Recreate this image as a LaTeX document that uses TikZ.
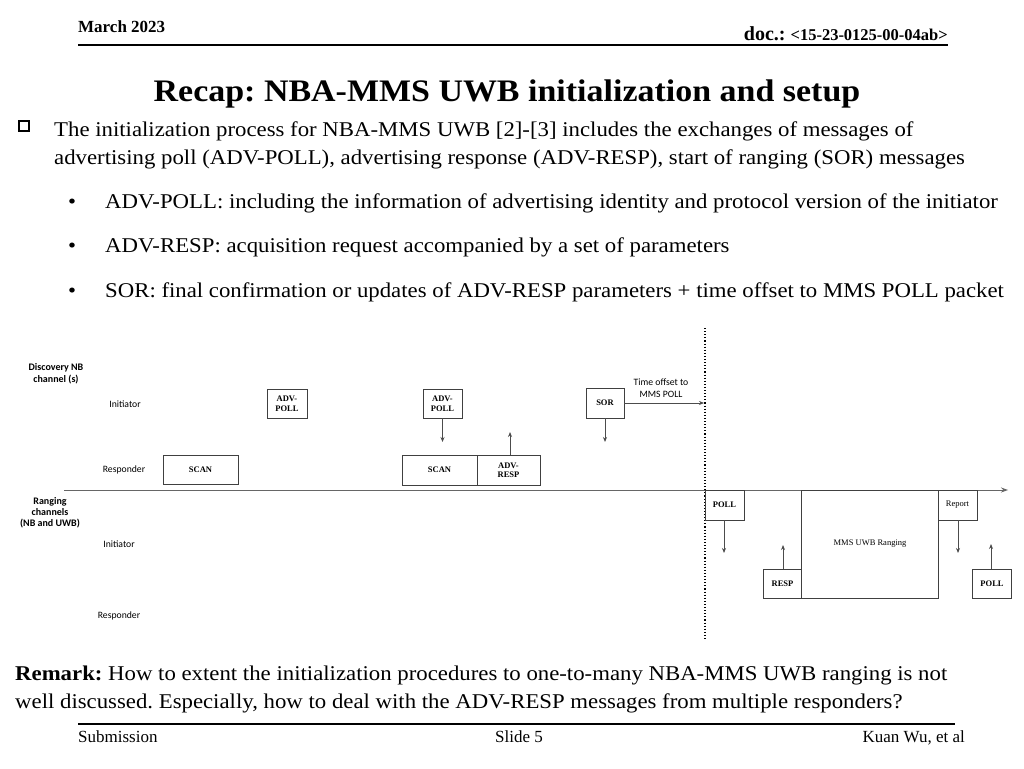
\documentclass[tikz,border=0pt]{standalone}
\usepackage{fontspec}
\setmainfont{Liberation Serif}
\newfontfamily\bodyf{Liberation Serif}[FakeStretch=1.085]
\newfontfamily\calib{Carlito}
\usetikzlibrary{arrows.meta}
\frenchspacing
\tikzset{
  txt/.style={inner sep=0pt, anchor=base west, font=\bodyf\fontsize{21}{25}\selectfont},
  lbl/.style={inner sep=0pt, font=\calib\fontsize{9.7}{11.5}\selectfont, align=center},
  box/.style={draw=black!75, line width=0.9pt, inner sep=0pt, font=\bfseries\fontsize{8.5}{9.5}\selectfont, align=center},
  msg/.style={-{Stealth[length=5pt,width=4pt]}, draw=black!70, line width=0.9pt},
}
\begin{document}
\begin{tikzpicture}[x=1pt,y=-1pt]
\useasboundingbox (0,0) rectangle (1024,768);
\fill[white] (0,0) rectangle (1024,768);
% header
\node[inner sep=0pt, anchor=base west, font=\bfseries\fontsize{17}{19}\selectfont] (date) at (78,33) {March 2023};
\node[inner sep=0pt, anchor=base east, font=\bfseries\fontsize{20}{22}\selectfont] (doc) at (948,41) {doc.: {\fontsize{16.5}{18}\selectfont <15-23-0125-00-04ab>}};
\coordinate (hl) at (78,45); \coordinate (hr) at (948,45);
\draw[line width=1.2pt] (hl) -- (hr);
\node[inner sep=0pt, anchor=base, font=\bodyf\bfseries\fontsize{31.3}{36}\selectfont] (title) at (507,101) {Recap: NBA-MMS UWB initialization and setup};
% bullets
\node[draw, line width=2pt, minimum size=10pt, inner sep=0pt] (chk) at (24,126) {};
\node[txt] (l1) at (54,136) {The initialization process for NBA-MMS UWB [2]-[3] includes the exchanges of messages of};
\node[txt] (l2) at (54,164) {advertising poll (ADV-POLL), advertising response (ADV-RESP), start of ranging (SOR) messages};
\node[txt] (b1) at (68,208) {\textbullet};
\node[txt] (t1) at (105,208) {ADV-POLL: including the information of advertising identity and protocol version of the initiator};
\node[txt] (b2) at (68,252) {\textbullet};
\node[txt] (t2) at (105,252) {ADV-RESP: acquisition request accompanied by a set of parameters};
\node[txt] (b3) at (68,297) {\textbullet};
\node[txt] (t3) at (105,297) {SOR: final confirmation or updates of ADV-RESP parameters + time offset to MMS POLL packet};
% diagram axes
\coordinate (dvt) at (705,328); \coordinate (dvb) at (705,640);
\draw[dotted, line width=1.1pt] (dvt) -- (dvb);
\coordinate (axl) at (64,490); \coordinate (axr) at (1008,490);
\draw[draw=black!60, line width=1pt, -{Stealth[length=7pt,width=5pt]}] (axl) -- (axr);
% labels
\node[lbl, font=\calib\bfseries\fontsize{10}{12}\selectfont] (disc) at (56,374) {Discovery NB\\channel (s)};
\node[lbl] (ini1) at (125,404) {Initiator};
\node[lbl] (res1) at (124,470) {Responder};
\node[lbl, font=\calib\bfseries\fontsize{10}{11.2}\selectfont] (rang) at (50,513) {Ranging\\channels\\(NB and UWB)};
\node[lbl] (ini2) at (119,544) {Initiator};
\node[lbl] (res2) at (119,616) {Responder};
% discovery boxes
\node[box, minimum width=40pt, minimum height=29pt] (ap1) at (287,403.5) {ADV-\\POLL};
\node[box, minimum width=75pt, minimum height=29pt] (sc1) at (200.5,469.5) {SCAN};
\node[box, minimum width=39pt, minimum height=29pt] (ap2) at (442.5,403.5) {ADV-\\POLL};
\node[box, minimum width=75pt, minimum height=30pt] (sc2) at (439.5,470) {SCAN};
\node[box, minimum width=63pt, minimum height=30pt] (ar) at (508.5,470) {ADV-\\RESP};
\node[box, minimum width=38pt, minimum height=30pt] (sor) at (605,403) {SOR};
\coordinate (ap2e) at (442.5,442);
\draw[msg] (ap2.south) -- (ap2e);
\coordinate (are) at (510,432);
\draw[msg] (ar.north -| are) -- (are);
\coordinate (sore) at (605,442);
\draw[msg] (sor.south) -- (sore);
\coordinate (toff) at (704,403);
\draw[msg] (sor.east) -- (toff);
\node[lbl] (toffl) at (661,388) {Time offset to\\MMS POLL};
% ranging boxes
\node[box, minimum width=39pt, minimum height=30pt] (poll1) at (724.5,505) {POLL};
\node[box, minimum width=38pt, minimum height=29pt] (resp) at (782.5,583.5) {RESP};
\node[box, minimum width=137pt, minimum height=108pt, font=\fontsize{8.5}{9.5}\selectfont] (mms) at (870,544) {MMS UWB Ranging};
\node[box, minimum width=39pt, minimum height=30pt, font=\fontsize{8.5}{9.5}\selectfont] (rep) at (957.5,505) {Report};
\node[box, minimum width=39pt, minimum height=29pt] (poll2) at (992,583.5) {POLL};
\coordinate (p1e) at (724,553);
\draw[msg] (poll1.south -| p1e) -- (p1e);
\coordinate (re) at (783,545);
\draw[msg] (resp.north -| re) -- (re);
\coordinate (repe) at (958,553);
\draw[msg] (rep.south -| repe) -- (repe);
\coordinate (p2e) at (991,544);
\draw[msg] (poll2.north -| p2e) -- (p2e);
% remark
\node[txt] (rm1) at (15,680) {\textbf{Remark:} How to extent the initialization procedures to one-to-many NBA-MMS UWB ranging is not};
\node[txt] (rm2) at (15,708) {well discussed. Especially, how to deal with the ADV-RESP messages from multiple responders?};
% footer
\coordinate (fl) at (78,724); \coordinate (fr) at (955,724);
\draw[line width=1.2pt] (fl) -- (fr);
\node[inner sep=0pt, anchor=base west, font=\fontsize{17}{19}\selectfont] (sub) at (78,742) {Submission};
\node[inner sep=0pt, anchor=base, font=\fontsize{17}{19}\selectfont] (sl) at (519,742) {Slide 5};
\node[inner sep=0pt, anchor=base east, font=\fontsize{17}{19}\selectfont] (au) at (965,742) {Kuan Wu, et al};
\end{tikzpicture}
\end{document}
